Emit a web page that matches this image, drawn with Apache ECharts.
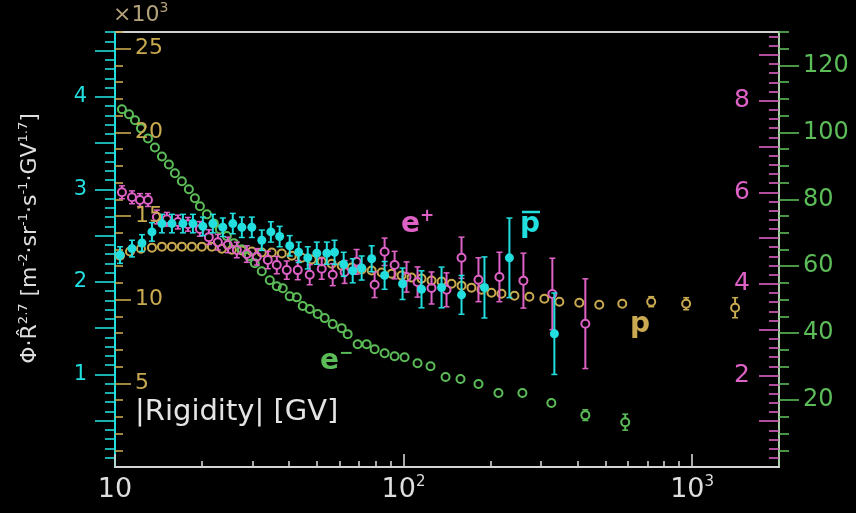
<!DOCTYPE html>
<html>
<head>
<meta charset="utf-8">
<script src="https://cdn.jsdelivr.net/npm/echarts@6.0.0/dist/echarts.min.js"></script>
<style>
  html, body { margin: 0; background: #000; }
  #chart { width: 856px; height: 513px; }
</style>
</head>
<body>
<div id="chart"></div>
<script>
// protons, flux x R^2.7 in units of 10^3
var protonRig = [10.41, 11.27, 12.30, 13.43, 14.54, 15.75, 17.05, 18.47, 20.0, 21.66, 23.46, 25.40, 27.51, 29.79,
  32.26, 34.94, 37.84, 40.98, 44.37, 48.06, 52.04, 56.36, 61.03, 66.10, 71.58, 77.52, 83.94, 90.90, 98.4,
  106.6, 115.4, 125.0, 135.4, 146.6, 158.8, 171.9, 186.2, 201.6, 218.4, 242.2, 272.9, 307.5, 346.6, 406.4,
  476.6, 572.6, 721.4, 953.3, 1409];
var protonFlux = [12.63, 12.88, 13.05, 13.11, 13.17, 13.17, 13.17, 13.17, 13.17, 13.17, 13.05, 12.99, 12.94, 12.88,
  12.82, 12.82, 12.76, 12.63, 12.51, 12.40, 12.28, 12.15, 12.03, 11.92, 11.80, 11.74, 11.62, 11.55, 11.44,
  11.32, 11.26, 11.14, 11.08, 10.95, 10.84, 10.72, 10.60, 10.42, 10.36, 10.24, 10.18, 10.06, 9.88, 9.82,
  9.70, 9.76, 9.88, 9.76, 9.52];
var protonErr = [0, 0, 0, 0, 0, 0, 0, 0, 0, 0, 0, 0, 0, 0, 0, 0, 0, 0, 0, 0, 0, 0, 0, 0, 0, 0, 0, 0, 0,
  0, 0, 0, 0, 0, 0, 0, 0, 0, 0, 0, 0, 0, 0, 0, 0, 0.12, 0.3, 0.36, 0.6];

// electrons
var electronRig = [10.57, 11.18, 11.73, 12.30, 13.01, 13.75, 14.54, 15.37, 16.13, 17.05, 18.03, 18.92, 19.69,
  20.82, 22.01, 23.09, 24.41, 25.81, 27.51, 29.09, 30.51, 32.26, 34.39, 36.36, 38.14, 40.32, 42.65, 44.72,
  47.29, 50.40, 53.29, 56.81, 61.03, 64.01, 69.31, 74.47, 79.38, 85.96, 93.09, 100.8, 111.8, 124.0, 139.8,
  157.5, 181.8, 213.2, 258.1, 325.2, 426.5, 586.4];
var electronFlux = [106.9, 105.4, 103.6, 101.2, 98.2, 95.5, 92.8, 90.4, 87.8, 85.4, 83.0, 80.3, 77.9, 75.5,
  72.8, 71.0, 69.0, 66.9, 65.1, 63.0, 60.9, 58.5, 55.8, 54.0, 53.4, 51.0, 50.7, 48.1, 47.2, 45.7, 44.5,
  42.7, 41.5, 39.7, 36.7, 36.7, 35.2, 34.0, 33.1, 32.8, 31.0, 30.1, 26.9, 26.3, 24.8, 22.1, 22.1, 19.1,
  15.5, 13.4];
var electronErr = [0, 0, 0, 0, 0, 0, 0, 0, 0, 0, 0, 0, 0, 0, 0, 0, 0, 0, 0, 0, 0, 0, 0, 0, 0, 0, 0, 0, 0,
  0, 0, 0, 0, 0, 0, 0, 0, 0, 0, 0, 0, 0, 0, 0, 0, 0, 0.8, 1.2, 1.6, 2.4];

// positrons
var positronRig = [10.57, 11.45, 12.2, 13.01, 13.97, 15.13, 16.52, 17.89, 19.69, 21.15, 22.72, 24.60, 26.43,
  28.63, 31.0, 33.84, 36.36, 39.37, 42.98, 47.29, 52.04, 56.81, 62.48, 68.75, 79.38, 85.96, 93.09, 102.4,
  111.8, 125.0, 140.9, 158.8, 181.8, 214.9, 260.2, 327.8, 426.5];
var positronFlux = [6.0, 5.89, 5.83, 5.83, 5.46, 5.41, 5.35, 5.30, 5.20, 5.02, 4.91, 4.85, 4.74, 4.65, 4.59,
  4.52, 4.41, 4.30, 4.30, 4.20, 4.33, 4.20, 4.26, 4.48, 3.98, 4.70, 4.41, 4.15, 4.04, 3.91, 3.87, 4.57,
  4.09, 4.15, 4.07, 3.78, 3.13];
var positronErr = [0.14, 0.14, 0.14, 0.14, 0.15, 0.15, 0.15, 0.15, 0.16, 0.16, 0.17, 0.17, 0.17, 0.18, 0.18,
  0.19, 0.19, 0.2, 0.21, 0.22, 0.23, 0.24, 0.25, 0.27, 0.28, 0.3, 0.3, 0.33, 0.33, 0.35, 0.37, 0.45, 0.48,
  0.54, 0.6, 0.78, 0.98];

// antiprotons
var antiprotonRig = [10.41, 11.45, 12.40, 13.43, 14.54, 15.75, 17.19, 18.62, 20.16, 21.83, 23.64, 25.60, 27.51,
  29.79, 32.26, 34.68, 37.20, 40.32, 43.30, 46.55, 50.04, 54.20, 57.65, 62.01, 66.64, 71.58, 77.52, 85.96,
  99.2, 115.4, 135.4, 158.8, 190.7, 232.7, 333.1];
var antiprotonFlux = [2.29, 2.36, 2.42, 2.54, 2.63, 2.63, 2.63, 2.63, 2.60, 2.63, 2.59, 2.63, 2.59, 2.59, 2.45,
  2.54, 2.49, 2.39, 2.32, 2.26, 2.31, 2.31, 2.32, 2.19, 2.12, 2.15, 2.25, 2.07, 1.98, 1.92, 1.94, 1.86,
  1.94, 2.26, 1.44];
var antiprotonErr = [0.09, 0.09, 0.09, 0.1, 0.1, 0.1, 0.1, 0.1, 0.1, 0.1, 0.1, 0.11, 0.11, 0.11, 0.11, 0.11,
  0.11, 0.11, 0.11, 0.12, 0.12, 0.12, 0.13, 0.13, 0.13, 0.13, 0.14, 0.15, 0.17, 0.2, 0.22, 0.21, 0.33,
  0.43, 0.44];

// tick values and labels
function steps(step, max, skip) {
  var out = [];
  for (var i = 1; i * step <= max + 1e-9; i++) {
    if (skip && i % skip === 0) continue;
    out.push(+(i * step).toFixed(2));
  }
  return out;
}
var xMajor = [10, 100, 1000];
var xMinor = [20, 30, 40, 50, 60, 70, 80, 90, 200, 300, 400, 500, 600, 700, 800, 900];
var cyanLabels = [1, 2, 3, 4];
var goldLabels = [5, 10, 15, 20, 25];
var pinkLabels = [2, 4, 6, 8];
var greenLabels = [20, 40, 60, 80, 100, 120];

var FONT = 'DejaVu Sans';
var CYAN = '#22dede', GOLD = '#c9aa50', PINK = '#de62c6', GREEN = '#5cbd58', WHITE = '#dedede';

function yAxis(o) {
  return {
    type: 'value', min: 0, max: o.max, position: o.pos, offset: 0, z: o.z || 0,
    splitLine: { show: false },
    axisLine: { show: !!o.line, onZero: false, lineStyle: { color: o.line, width: 2 } },
    axisTick: { show: true, inside: o.inside, length: o.len, customValues: o.ticks,
      lineStyle: { color: o.color, width: 1.6 } },
    axisLabel: o.labels ? { show: true, inside: o.inside, customValues: o.labels, margin: o.margin,
      color: o.color, fontSize: o.fs, fontFamily: FONT } : { show: false },
    name: o.name || '', nameLocation: 'middle', nameGap: o.nameGap, nameRotate: 90,
    nameTextStyle: o.nameStyle
  };
}

function markSeries(rig, flux, err, yIndex, color, filled, r) {
  return {
    type: 'custom', yAxisIndex: yIndex, clip: false,
    data: rig.map(function (v, i) { return [v, flux[i], err[i]]; }),
    encode: { x: 0, y: 1 },
    renderItem: function (params, api) {
      var x = api.value(0), y = api.value(1), e = api.value(2);
      var c = api.coord([x, y]);
      var top = api.coord([x, y + e])[1];
      var bot = api.coord([x, y - e])[1];
      var ls = { stroke: color, lineWidth: 2 };
      var cs = { stroke: color, lineWidth: 1.5 };
      var gap = filled ? 0 : r;
      var kids = [];
      if (c[1] - top > gap + 1) {
        kids.push({ type: 'line', shape: { x1: c[0], y1: c[1] - gap, x2: c[0], y2: top }, style: ls });
        kids.push({ type: 'line', shape: { x1: c[0] - 3, y1: top, x2: c[0] + 3, y2: top }, style: cs });
      }
      if (bot - c[1] > gap + 1) {
        kids.push({ type: 'line', shape: { x1: c[0], y1: c[1] + gap, x2: c[0], y2: bot }, style: ls });
        kids.push({ type: 'line', shape: { x1: c[0] - 3, y1: bot, x2: c[0] + 3, y2: bot }, style: cs });
      }
      kids.push({ type: 'circle', shape: { cx: c[0], cy: c[1], r: r },
        style: filled ? { fill: color } : { fill: 'none', stroke: color, lineWidth: 2 } });
      return { type: 'group', children: kids };
    }
  };
}

// text with a superscript, for the graphic layer (zrender styles use fill)
function supText(x, y, base, up, color, size, upSize, weight) {
  return {
    type: 'text', x: x, y: y, z: 100,
    style: {
      text: '{a|' + base + '}{b|' + up + '}',
      rich: {
        a: { fontSize: size, lineHeight: size + 6, fontWeight: weight, fill: color, fontFamily: FONT },
        b: { fontSize: upSize, lineHeight: upSize + 2, verticalAlign: 'top', fontWeight: weight, fill: color, fontFamily: FONT }
      }
    }
  };
}

var chart = echarts.init(document.getElementById('chart'));
var sup = { fontSize: 13, lineHeight: 14, verticalAlign: 'top', color: WHITE, fontFamily: FONT };

chart.setOption({
  backgroundColor: '#000',
  animation: false,
  grid: { left: 115, right: 77, top: 32, bottom: 46, show: true, borderColor: '#cfcfcf', borderWidth: 2,
    backgroundColor: 'transparent' },
  xAxis: [{
    type: 'log', logBase: 10, min: 10, max: 2000, position: 'bottom',
    splitLine: { show: false },
    axisLine: { show: true, onZero: false, lineStyle: { color: '#d4d4d4', width: 2 } },
    axisTick: { show: true, inside: true, length: 13, customValues: xMajor, lineStyle: { color: '#d4d4d4', width: 1.6 } },
    axisLabel: {
      customValues: xMajor, margin: 8, color: WHITE,
      formatter: function (v) {
        var p = Math.round(Math.log10(v));
        return p === 1 ? '{b|10}' : '{b|10}{s|' + p + '}';
      },
      rich: {
        b: { fontSize: 27, lineHeight: 30, color: WHITE, fontFamily: FONT },
        s: { fontSize: 15, lineHeight: 16, verticalAlign: 'top', color: WHITE, fontFamily: FONT }
      }
    }
  }, {
    type: 'log', logBase: 10, min: 10, max: 2000, position: 'bottom',
    splitLine: { show: false },
    axisLine: { show: false, onZero: false },
    axisTick: { show: true, inside: true, length: 6, customValues: xMinor, lineStyle: { color: '#d4d4d4', width: 1.6 } },
    axisLabel: { show: false }
  }],
  yAxis: [
    yAxis({ pos: 'left', max: 4.7, color: CYAN, line: CYAN, inside: false, len: 20, ticks: steps(0.5, 4.7),
      labels: cyanLabels, margin: 28, fs: 21,
      name: '{a|\u03a6\u00b7R\u0302}{b|2.7}{a| [m}{b|-2}{a|\u00b7sr}{b|-1}{a|\u00b7s}{b|-1}{a|\u00b7GV}{b|1.7}{a|]}',
      nameGap: 72,
      nameStyle: { padding: [0, 0, 0, 22],
        rich: { a: { fontSize: 22, lineHeight: 26, color: WHITE, fontFamily: FONT }, b: sup } } }),
    yAxis({ pos: 'left', max: 4.7, color: CYAN, inside: false, len: 10, ticks: steps(0.1, 4.7, 5) }),
    yAxis({ pos: 'left', max: 26.0, color: GOLD, inside: true, len: 16, ticks: steps(5, 26.0),
      labels: goldLabels, margin: 20, fs: 22, z: 5 }),
    yAxis({ pos: 'left', max: 26.0, color: GOLD, inside: true, len: 8, ticks: steps(1, 26.0, 5) }),
    yAxis({ pos: 'right', max: 9.5, color: PINK, inside: true, len: 20, ticks: steps(1, 9.5),
      labels: pinkLabels, margin: 29, fs: 25 }),
    yAxis({ pos: 'right', max: 9.5, color: PINK, inside: true, len: 10, ticks: steps(0.2, 9.5, 5) }),
    yAxis({ pos: 'right', max: 130, color: GREEN, line: '#a8cfa6', inside: false, len: 20, ticks: steps(20, 130),
      labels: greenLabels, margin: 24, fs: 24 }),
    yAxis({ pos: 'right', max: 130, color: GREEN, inside: false, len: 10, ticks: steps(5, 130, 4) })
  ],
  graphic: [
    supText(113, 1, '\u00d710', '3', '#b3a27c', 22, 14, 'normal'),
    { type: 'text', x: 135, y: 398, z: 100,
      style: { text: '|Rigidity| [GV]', fill: '#e4e4e4', font: '29px "DejaVu Sans"' } },
    supText(401, 208, 'e', '+', PINK, 28, 17, 'bold'),
    { type: 'text', x: 520, y: 211, z: 100,
      style: { text: 'p', fill: CYAN, font: 'bold 28px "DejaVu Sans"' } },
    { type: 'line', z: 100, shape: { x1: 522, y1: 212, x2: 540, y2: 212 }, style: { stroke: CYAN, lineWidth: 2.5 } },
    { type: 'text', x: 630, y: 311, z: 100,
      style: { text: 'p', fill: GOLD, font: 'bold 28px "DejaVu Sans"' } },
    supText(320, 345, 'e', '\u2212', GREEN, 28, 17, 'bold')
  ],
  series: [
    markSeries(protonRig, protonFlux, protonErr, 2, GOLD, false, 4),
    markSeries(electronRig, electronFlux, electronErr, 6, GREEN, false, 4),
    markSeries(positronRig, positronFlux, positronErr, 4, PINK, false, 4),
    markSeries(antiprotonRig, antiprotonFlux, antiprotonErr, 0, CYAN, true, 4.5)
  ]
});
</script>
</body>
</html>
